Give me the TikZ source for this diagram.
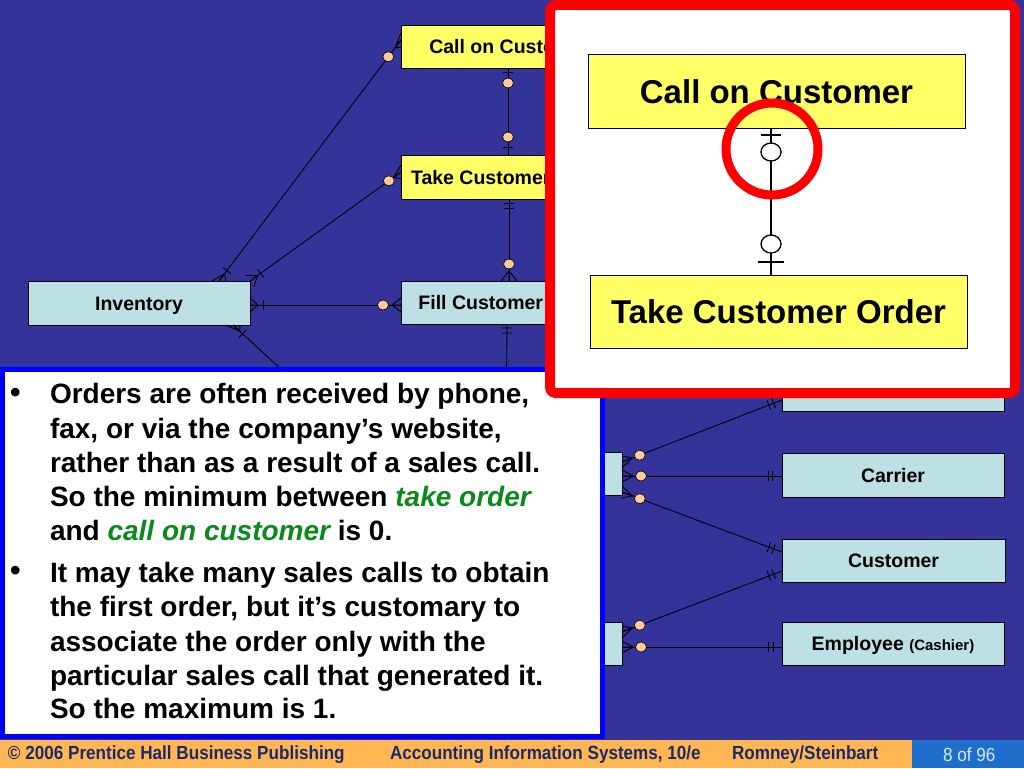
\documentclass[tikz,border=0pt]{standalone}
\usepackage{fontspec}
\setmainfont{Liberation Sans}
\newfontfamily\footfont[FakeStretch=0.9]{Liberation Sans}
\usetikzlibrary{calc}
\definecolor{bgblue}{HTML}{333399}
\definecolor{entyel}{HTML}{FFFF66}
\definecolor{entblu}{HTML}{BCE0E4}
\definecolor{peach}{HTML}{FFCC99}
\definecolor{tbblue}{HTML}{0000FF}
\definecolor{hired}{HTML}{FF0000}
\definecolor{footor}{HTML}{FFB653}
\definecolor{footbl}{HTML}{1E6FCC}
\definecolor{footnv}{HTML}{1C2A6C}
\definecolor{footlt}{HTML}{DCEBFF}
\definecolor{grn}{HTML}{0A8A1A}
\newcommand\erTick[3]{\path ($(#1)!#3!(#2)$) coordinate (tk);
  \draw[conn] ($(tk)!5pt!90:(#2)$) -- ($(tk)!5pt!-90:(#2)$);}
\newcommand\erDot[3]{\path ($(#1)!#3!(#2)$) coordinate (ck);
  \filldraw[dotst] (ck) ellipse (5.5pt and 5pt);}
\newcommand\erCrow[4]{\path ($(#1)!#3!(#2)$) coordinate (cw);
  \draw[conn] (cw) -- (#1) (cw) -- ($(#1)+#4$) (cw) -- ($(#1)-#4$);}
\begin{document}
\begin{tikzpicture}[x=1pt,y=-1pt,
  every node/.append style={outer sep=0pt},
  ent/.style={draw=black, line width=0.8pt, inner sep=0pt, anchor=north west,
    minimum width=218pt, minimum height=43pt, text=black, text height=14pt, text depth=0pt,
    font=\fontsize{19.5}{22}\selectfont\bfseries},
  yelent/.style={ent, fill=entyel},
  bluent/.style={ent, fill=entblu},
  bigent/.style={ent, fill=entyel, minimum width=377pt, minimum height=74pt,
    text height=24pt, text depth=0pt, font=\fontsize{33}{38}\selectfont\bfseries},
  conn/.style={draw=black, line width=0.9pt},
  dotst/.style={fill=peach, draw=black, line width=0.6pt},
  tline/.style={anchor=base west, inner sep=0pt, text=black,
    font=\fontsize{28}{34}\selectfont\bfseries},
  bullet/.style={anchor=base west, inner sep=0pt, text=black,
    font=\fontsize{30}{34}\selectfont\bfseries},
  foot/.style={anchor=west, inner sep=0pt, text=footnv,
    font=\footfont\fontsize{19}{22}\selectfont\bfseries}]
\useasboundingbox (0,0) rectangle (1024,768);
\fill[bgblue] (0,0) rectangle (1024,768);

% entities
\node[yelent] (call) at (401,25) {Call on Customer};
\node[yelent, minimum height=44pt] (take) at (401,155) {Take Customer Order};
\node[bluent] (fill) at (401,281) {Fill Customer Order};
\node[bluent, minimum width=222pt, minimum height=44pt] (inv) at (28,281) {Inventory};
\node[bluent, minimum width=222pt] (shipA) at (400,452) {};
\node[bluent, minimum width=222pt] (cashB) at (400,622) {};
\node[bluent, minimum width=222pt, text depth=4pt] (empS) at (782,368) {Employee {\fontsize{15}{17}\selectfont(Shipping)}};
\node[bluent, minimum width=222pt, minimum height=44pt] (carrier) at (782,453) {Carrier};
\node[bluent, minimum width=223pt] (cust) at (782,539) {Customer};
\node[bluent, minimum width=222pt] (empC) at (782,622) {Employee {\fontsize{15}{17}\selectfont(Cashier)}};

% connector end points on the entities
\coordinate (a1) at ($(call.south west)+(107,0)$);
\coordinate (a2) at ($(take.north west)+(107,0)$);
\coordinate (b1) at ($(take.south west)+(108,0)$);
\coordinate (b2) at ($(fill.north west)+(108,0)$);
\coordinate (c1) at ($(fill.south west)+(106,0)$);
\coordinate (c2) at ($(shipA.north west)+(106,0)$);
\coordinate (d1) at ($(inv.north west)+(191,0)$);
\coordinate (d2) at ($(call.north west)+(0,15)$);
\coordinate (e1) at (inv.north east);
\coordinate (e2) at ($(take.north west)+(0,17)$);
\coordinate (f1) at ($(inv.north east)+(0,24)$);
\coordinate (f2) at ($(fill.north west)+(0,24)$);
\coordinate (g1) at ($(inv.south west)+(205,0)$);
\coordinate (hidA) at (371,452);
\coordinate (h1) at ($(shipA.north east)+(0,10)$);
\coordinate (h2) at ($(empS.north west)+(0,32)$);
\coordinate (i1) at ($(shipA.north east)+(0,24)$);
\coordinate (i2) at ($(carrier.north west)+(0,23)$);
\coordinate (j1) at ($(shipA.north east)+(0,40)$);
\coordinate (j2) at ($(cust.north west)+(0,13)$);
\coordinate (k1) at ($(cashB.north east)+(0,10)$);
\coordinate (k2) at ($(cust.north west)+(0,32)$);
\coordinate (l1) at ($(cashB.north east)+(0,25)$);
\coordinate (l2) at ($(empC.north west)+(0,25)$);

% Call on Customer -- Take Customer Order
\draw[conn] (a1) -- (a2);
\erTick{a1}{a2}{4pt} \erDot{a1}{a2}{15pt}
\erTick{a2}{a1}{8pt} \erDot{a2}{a1}{18pt}
% Take Customer Order -- Fill Customer Order
\draw[conn] (b1) -- (b2);
\erTick{b1}{b2}{4pt} \erTick{b1}{b2}{9pt}
\erCrow{b2}{b1}{10pt}{(8,0)} \erDot{b2}{b1}{17pt}
% Fill Customer Order -- (hidden) lower event
\draw[conn] (c1) -- (c2);
\erTick{c1}{c2}{4pt} \erTick{c1}{c2}{9pt}
% Inventory -- Call on Customer
\draw[conn] (d1) -- (d2);
\erTick{d1}{d2}{13pt} \erCrow{d1}{d2}{9pt}{(7,0)}
\erCrow{d2}{d1}{10pt}{(0,7)} \erDot{d2}{d1}{21pt}
% Inventory -- Take Customer Order
\draw[conn] (e1) -- (e2);
\erTick{e1}{e2}{13pt} \erCrow{e1}{e2}{9pt}{(4,5.7)}
\erCrow{e2}{e1}{9pt}{(0,7)} \erDot{e2}{e1}{15pt}
% Inventory -- Fill Customer Order
\draw[conn] (f1) -- (f2);
\erTick{f1}{f2}{13pt} \erCrow{f1}{f2}{8pt}{(0,7)}
\erCrow{f2}{f1}{9pt}{(0,7)} \erDot{f2}{f1}{18pt}
% Inventory -- (hidden)
\draw[conn] (g1) -- (hidA);
\erTick{g1}{hidA}{13pt} \erCrow{g1}{hidA}{9pt}{(7,0)}
% right-hand relationships
\draw[conn] (h1) -- (h2);
\erTick{h2}{h1}{9pt} \erTick{h2}{h1}{14pt}
\erCrow{h1}{h2}{11pt}{(0,6)} \erDot{h1}{h2}{19pt}
\draw[conn] (i1) -- (i2);
\erTick{i2}{i1}{10pt} \erTick{i2}{i1}{14pt}
\erCrow{i1}{i2}{11pt}{(0,6)} \erDot{i1}{i2}{19pt}
\draw[conn] (j1) -- (j2);
\erTick{j2}{j1}{9pt} \erTick{j2}{j1}{14pt}
\erCrow{j1}{j2}{11pt}{(0,6)} \erDot{j1}{j2}{19pt}
\draw[conn] (k1) -- (k2);
\erTick{k2}{k1}{9pt} \erTick{k2}{k1}{14pt}
\erCrow{k1}{k2}{11pt}{(0,6)} \erDot{k1}{k2}{19pt}
\draw[conn] (l1) -- (l2);
\erTick{l2}{l1}{9pt} \erTick{l2}{l1}{14pt}
\erCrow{l1}{l2}{11pt}{(0,6)} \erDot{l1}{l2}{19pt}

% text box
\node[draw=tbblue, line width=5pt, fill=white, inner sep=0pt, anchor=north west,
  minimum width=600pt, minimum height=367pt] (textbox) at (2.5,369) {};
\node[bullet] (bul1) at (10,402) {•};
\node[bullet] (bul2) at (10,580) {•};
\node[tline] (t1) at (50,403) {Orders are often received by phone,};
\node[tline] (t2) at (50,438) {fax, or via the company’s website,};
\node[tline] (t3) at (50,472) {rather than as a result of a sales call.};
\node[tline] (t4) at (50,506) {So the minimum between \textcolor{grn}{\itshape take order}};
\node[tline] (t5) at (50,540) {and \textcolor{grn}{\itshape call on customer} is 0.};
\node[tline] (t6) at (50,582) {It may take many sales calls to obtain};
\node[tline] (t7) at (50,616) {the first order, but it’s customary to};
\node[tline] (t8) at (50,651) {associate the order only with the};
\node[tline] (t9) at (50,685) {particular sales call that generated it.};
\node[tline] (t10) at (50,718) {So the maximum is 1.};

% zoomed call-out
\node[draw=hired, line width=10pt, fill=white, rounded corners=6pt, inner sep=0pt,
  anchor=north west, minimum width=465pt, minimum height=388pt] (zoombox) at (550,5) {};
\node[bigent] (bigcall) at (588,54) {Call on Customer};
\node[bigent, minimum height=73pt, minimum width=377pt] (bigtake) at (590,275) {Take Customer Order};
\coordinate (m1) at ($(bigcall.south west)+(183,0)$);
\coordinate (m2) at ($(bigtake.north west)+(181,0)$);
\draw[line width=1.3pt] (m1) -- (m2);
\draw[line width=1.3pt] ($(m1)+(-10,7)$) -- ($(m1)+(10,7)$);
\filldraw[fill=white, draw=black, line width=1.3pt] ($(m1)+(0,24)$) ellipse (10pt and 9pt);
\filldraw[fill=white, draw=black, line width=1.3pt] ($(m2)+(0,-31)$) ellipse (10pt and 9pt);
\draw[line width=1.3pt] ($(m2)+(-13,-13)$) -- ($(m2)+(13,-13)$);
\draw[hired, line width=9pt] (772,149) circle (46pt);

% footer
\fill[footor] (0,740) rectangle (1024,768);
\fill[footbl] (912,740) rectangle (1024,768);
\node[foot] (f-copy) at (8,755) {© 2006 Prentice Hall Business Publishing};
\node[foot] (f-book) at (390,755) {Accounting Information Systems, 10/e};
\node[foot] (f-auth) at (732,755) {Romney/Steinbart};
\node[foot, text=footlt, font=\footfont\fontsize{19}{22}\selectfont] (f-page) at (943,755) {8 of 96};
\end{tikzpicture}
\end{document}
